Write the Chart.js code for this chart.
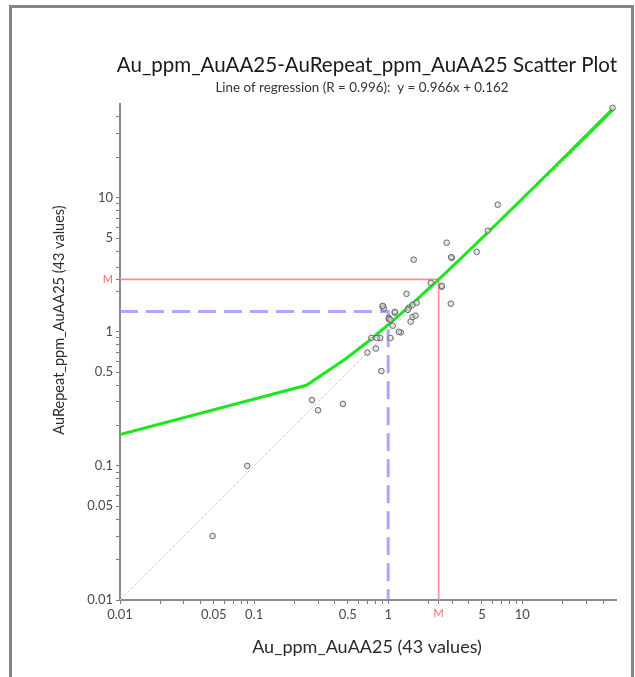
<!DOCTYPE html>
<html lang="en">
<head>
<meta charset="UTF-8">
<title>Au_ppm_AuAA25-AuRepeat_ppm_AuAA25 Scatter Plot</title>
<script src="https://cdn.jsdelivr.net/npm/chart.js"></script>
<style>
    html, body { margin: 0; padding: 0; background: #fff; }
    .frame {
        position: absolute;
        left: 9px; top: 5px;
        width: 625px; height: 700px;
        border: 3px solid #858585;
        box-sizing: border-box;
    }
    #scatter { position: absolute; left: 0; top: 0; }
</style>
</head>
<body>
<div class="frame"></div>
<canvas id="scatter" width="635" height="677"></canvas>

<script>
// original assay (x) and repeat assay (y), ppm
const auValues       = [0.049, 0.089, 0.27, 0.30, 0.46, 0.70, 0.81, 0.89, 0.75, 0.87, 1.04, 1.24, 1.08, 1.01, 1.12,
                        0.91, 0.93, 1.37, 1.42, 1.52, 1.63, 1.52, 1.47, 2.08, 2.51, 2.93, 1.55, 2.73, 2.98, 4.57,
                        5.53, 6.56, 47.1, 0.91, 1.01, 2.95, 1.40, 1.60, 0.82, 1.12, 2.51, 1.04, 1.20];
const auRepeatValues = [0.030, 0.100, 0.31, 0.26, 0.29, 0.70, 0.75, 0.51, 0.90, 0.90, 0.90, 0.99, 1.11, 1.27, 1.39,
                        1.54, 1.49, 1.92, 1.51, 1.59, 1.65, 1.29, 1.19, 2.32, 2.17, 1.62, 3.45, 4.62, 3.57, 3.95,
                        5.67, 8.87, 46.7, 1.56, 1.25, 3.60, 1.46, 1.32, 0.90, 1.41, 2.20, 1.23, 1.00];

// regression y = slope * x + intercept
const slope = 0.966;
const intercept = 0.162;
const rValue = 0.996;

// mean (M) and median markers
const meanAu = 2.38, meanRepeat = 2.46;
const medianAu = 1.0, medianRepeat = 1.42;

// axis range and labelled ticks
const axisMin = 0.01, axisMax = 50;
const tickValues = [0.01, 0.05, 0.1, 0.5, 1, 5, 10];
const tickLabels = ['0.01', '0.05', '0.1', '0.5', '1', '5', '10'];

const xTitle = 'Au_ppm_AuAA25 (' + auValues.length + ' values)';
const yTitle = 'AuRepeat_ppm_AuAA25 (' + auRepeatValues.length + ' values)';
const mainTitle = 'Au_ppm_AuAA25-AuRepeat_ppm_AuAA25 Scatter Plot';
const subTitle = 'Line of regression (R = ' + rValue.toFixed(3) + '):  y = ' + slope.toFixed(3) + 'x + ' + intercept.toFixed(3);

const RED = '#ff6666';
const FONT = 'Lato, "Open Sans", sans-serif';

// every 1..9 step in each decade, plus the M marker
function axisTicks(mark) {
    const out = [];
    for (let d = 0.01; d < axisMax; d *= 10) {
        for (let k = 1; k <= 9; k++) {
            const v = +(k * d).toPrecision(3);
            if (v < axisMax) out.push(v);
        }
    }
    out.push(mark);
    return out.sort((a, b) => a - b).map(v => ({ value: v }));
}

function tickLabel(v, mark) {
    if (v === mark) return 'M';
    const i = tickValues.findIndex(t => Math.abs(t - v) < 1e-9);
    return i >= 0 ? tickLabels[i] : '';
}

function scaleOpts(axis, mark) {
    return {
        type: 'logarithmic',
        position: axis === 'x' ? 'bottom' : 'left',
        min: axisMin,
        max: axisMax,
        afterBuildTicks: s => { s.ticks = axisTicks(mark); },
        afterFit: s => {
            if (axis === 'x') s.height = 77; else s.width = 120;
        },
        border: { color: '#8c8c8c', width: 2 },
        grid: { drawOnChartArea: false, drawTicks: true, tickLength: 4, color: '#777', lineWidth: 1 },
        ticks: {
            autoSkip: false,
            maxRotation: 0,
            padding: 3,
            callback: v => tickLabel(v, mark),
            color: c => (c.tick && c.tick.value === mark) ? RED : '#4a4a4a',
            font: c => ({ family: FONT, size: (c.tick && c.tick.value === mark) ? 11 : 13 })
        }
    };
}

// regression line sampled across the data range
const xMaxData = Math.max(...auValues);
const regression = [];
for (let i = 0; i <= 200; i++) {
    const x = axisMin + (xMaxData - axisMin) * i / 200;
    regression.push({ x: x, y: slope * x + intercept });
}

const points = auValues.map((x, i) => ({ x: x, y: auRepeatValues[i] }));

const textPlugin = {
    id: 'texts',
    afterDraw(chart) {
        const ctx = chart.ctx;
        const a = chart.chartArea;
        const cx = (a.left + a.right) / 2;
        ctx.save();
        ctx.fillStyle = '#1a1a1a';
        ctx.textAlign = 'center';
        ctx.textBaseline = 'middle';
        ctx.font = '20.5px ' + FONT;
        ctx.fillText(mainTitle, cx - 1, 65);
        ctx.fillStyle = '#333';
        ctx.font = '13.4px ' + FONT;
        ctx.fillText(subTitle, cx - 6, 88);

        ctx.fillStyle = '#2a2a2a';
        ctx.font = '18px ' + FONT;
        ctx.fillText(xTitle, cx - 1, 647);
        ctx.font = '14.5px ' + FONT;
        ctx.translate(59, 320);
        ctx.rotate(-Math.PI / 2);
        ctx.fillText(yTitle, 0, 0);
        ctx.restore();
    }
};

new Chart(document.getElementById('scatter'), {
    type: 'scatter',
    data: {
        datasets: [
            {
                label: 'samples',
                data: points,
                order: 0,
                pointRadius: 2.8,
                borderWidth: 1,
                borderColor: '#666',
                backgroundColor: 'rgba(215,215,215,0.6)'
            },
            {
                type: 'line',
                label: 'regression',
                data: regression,
                order: 1,
                borderColor: '#1ee61e',
                borderWidth: 3,
                pointRadius: 0,
                tension: 0
            },
            {
                type: 'line',
                label: 'mean',
                data: [{ x: axisMin, y: meanRepeat }, { x: meanAu, y: meanRepeat }, { x: meanAu, y: axisMin }],
                order: 2,
                borderColor: '#ff8c8c',
                borderWidth: 1.6,
                pointRadius: 0
            },
            {
                type: 'line',
                label: 'median',
                data: [{ x: axisMin, y: medianRepeat }, { x: medianAu, y: medianRepeat }, { x: medianAu, y: axisMin }],
                order: 3,
                borderColor: 'rgba(140,140,255,0.75)',
                borderWidth: 3,
                borderDash: [18, 8],
                pointRadius: 0
            },
            {
                type: 'line',
                label: 'x = y',
                data: [{ x: axisMin, y: axisMin }, { x: axisMax, y: axisMax }],
                order: 4,
                borderColor: '#d0d0d0',
                borderWidth: 1,
                borderDash: [3, 2],
                pointRadius: 0
            }
        ]
    },
    options: {
        responsive: false,
        animation: false,
        layout: { padding: { left: 0, right: 19, top: 104, bottom: 0 } },
        plugins: {
            legend: { display: false },
            title: { display: false },
            tooltip: { enabled: false }
        },
        scales: {
            x: scaleOpts('x', meanAu),
            y: scaleOpts('y', meanRepeat)
        }
    },
    plugins: [textPlugin]
});
</script>
</body>
</html>
